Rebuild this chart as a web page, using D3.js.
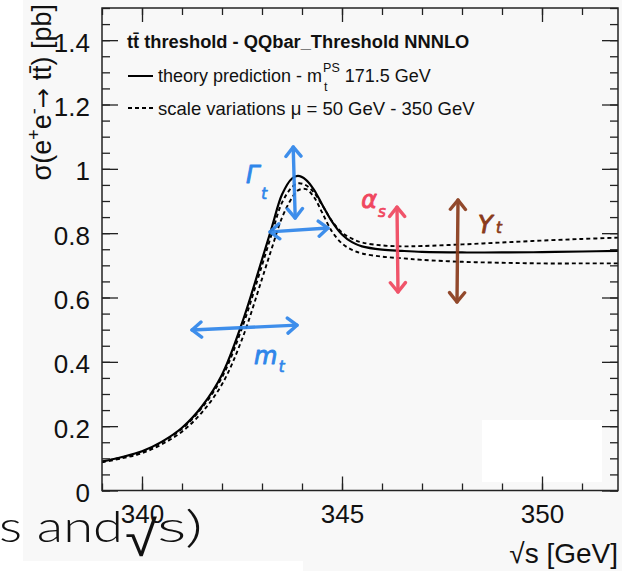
<!DOCTYPE html>
<html>
<head>
<meta charset="utf-8">
<script src="https://cdn.jsdelivr.net/npm/d3@7"></script>
<style>
body{margin:0;background:#fff;}
svg{display:block;}
</style>
</head>
<body>
<div id="chart"></div>
<script>
// cross section (pb) vs sqrt(s) (GeV)
const sqrtS = [339, 339.5, 340, 340.5, 341, 341.5, 342, 342.5, 343, 343.25, 343.5, 343.75, 343.9, 344.1,
  344.3, 344.5, 344.75, 345, 345.25, 345.5, 346, 346.5, 347, 348, 349, 350, 351, 351.9];
const sigmaTheory = [0.090, 0.104, 0.122, 0.152, 0.195, 0.262, 0.360, 0.520, 0.718, 0.820, 0.920, 0.970, 0.978, 0.966,
  0.935, 0.890, 0.836, 0.796, 0.772, 0.759, 0.749, 0.745, 0.742, 0.740, 0.740, 0.741, 0.743, 0.745];
const sigmaScaleUp = [0.090, 0.103, 0.120, 0.150, 0.192, 0.257, 0.352, 0.505, 0.700, 0.800, 0.895, 0.943, 0.955, 0.949,
  0.926, 0.888, 0.838, 0.802, 0.783, 0.771, 0.762, 0.759, 0.760, 0.765, 0.771, 0.777, 0.782, 0.786];
const sigmaScaleDown = [0.088, 0.100, 0.116, 0.144, 0.183, 0.243, 0.330, 0.470, 0.658, 0.755, 0.848, 0.910, 0.933, 0.937,
  0.912, 0.865, 0.805, 0.768, 0.748, 0.737, 0.727, 0.722, 0.717, 0.711, 0.708, 0.706, 0.706, 0.706];

const xMajorTicks = [340, 345, 350];
const xMinorTicks = d3.range(339, 352, 1);
const yMajorTicks = [0, 0.2, 0.4, 0.6, 0.8, 1, 1.2, 1.4];
const yMinorTicks = d3.range(0, 1.5001, 0.05);

const legendTitle = "tt\u0304 threshold - QQbar_Threshold NNNLO";
const legendTheory = "theory prediction - m";
const legendMass = "171.5 GeV";
const legendScale = "scale variations \u03bc = 50 GeV - 350 GeV";

// hand drawn arrows (data units): which parameter moves the curve where
const arrows = [
  {name:"width",  color:"#2f86ea", from:[343.78, 1.068], to:[343.83, 0.847]},
  {name:"peak",   color:"#2f86ea", from:[343.2, 0.804],  to:[344.65, 0.816]},
  {name:"mass",   color:"#2f86ea", from:[341.25, 0.499], to:[343.875, 0.514]},
  {name:"alphas", color:"#f0475f", from:[346.375, 0.881], to:[346.4, 0.617]},
  {name:"yukawa", color:"#8a3b1b", from:[347.9, 0.903],  to:[347.875, 0.586]}
];
const notes = [
  {main:"\u0393", sub:"t", color:"#2f86ea", at:[342.6, 0.956], subAt:[342.98, 0.905]},
  {main:"m", sub:"t", color:"#2f86ea", at:[342.8, 0.393], subAt:[343.42, 0.368]},
  {main:"\u03b1", sub:"s", color:"#f0475f", at:[345.48, 0.878], subAt:[345.9, 0.85]},
  {main:"Y", sub:"t", color:"#8a3b1b", at:[348.4, 0.80], subAt:[348.85, 0.80]}
];

const W = 622, H = 571;
const plot = {left:102, right:618, top:8, bottom:490.5};
const font = "'Liberation Sans', Arial, Helvetica, sans-serif";

const svg = d3.select("#chart").append("svg").attr("width", W).attr("height", H);

// slide background
svg.append("rect").attr("x", 23).attr("y", 0).attr("width", W - 23).attr("height", H).attr("fill", "#f8f8f8");
svg.append("rect").attr("x", 23).attr("y", 561).attr("width", 280).attr("height", 10).attr("fill", "#fff");

// leftover slide title at the bottom
let slide = svg.append("g").attr("fill", "#111").attr("font-family", "Lato, 'Open Sans', sans-serif").attr("font-weight", 300);
slide.append("text").attr("x", -1).attr("y", 542).attr("font-size", 43)
  .attr("textLength", 124).attr("lengthAdjust", "spacingAndGlyphs").text("s and");
slide.append("text").attr("x", 125).attr("y", 556).attr("font-size", 50)
  .attr("font-family", "'DejaVu Sans ExtraLight', 'DejaVu Sans', sans-serif")
  .attr("font-weight", 200).attr("textLength", 32).attr("lengthAdjust", "spacingAndGlyphs").text("\u221a");
slide.append("text").attr("x", 157).attr("y", 542).attr("font-size", 43)
  .attr("textLength", 46).attr("lengthAdjust", "spacingAndGlyphs").text("s)");

const x = d3.scaleLinear().domain([339, 351.9]).range([plot.left, plot.right]);
const y = d3.scaleLinear().domain([0, 1.5]).range([plot.bottom, plot.top]);

svg.append("clipPath").attr("id", "clip").append("rect")
  .attr("x", plot.left).attr("y", plot.top)
  .attr("width", plot.right - plot.left).attr("height", plot.bottom - plot.top);

let line = d3.line().x(d => x(d[0])).y(d => y(d[1])).curve(d3.curveCatmullRom.alpha(0.5));
let curves = svg.append("g").attr("clip-path", "url(#clip)").attr("fill", "none").attr("stroke", "#000");
curves.append("path").datum(d3.zip(sqrtS, sigmaScaleUp)).attr("d", line)
  .attr("stroke-width", 1.9).attr("stroke-dasharray", "4,3");
curves.append("path").datum(d3.zip(sqrtS, sigmaScaleDown)).attr("d", line)
  .attr("stroke-width", 1.9).attr("stroke-dasharray", "4,3");
curves.append("path").datum(d3.zip(sqrtS, sigmaTheory)).attr("d", line)
  .attr("stroke-width", 2.2);

// white patch covering the bottom right of the frame
svg.append("rect").attr("x", 482).attr("y", 420).attr("width", 120).attr("height", 62).attr("fill", "#fff");

// axes: ticks point inwards on all four sides
function drawAxis(axis, transform, keepLabels){
  let g = svg.append("g").attr("transform", transform).call(axis)
    .attr("font-family", font).attr("font-size", 26);
  g.select(".domain").remove();
  g.selectAll("line").attr("stroke", "#222").attr("stroke-width", 1.3);
  if(!keepLabels) g.selectAll("text").remove();
  else g.selectAll("text").attr("fill", "#111");
  return g;
}
drawAxis(d3.axisBottom(x).tickValues(xMinorTicks).tickSizeInner(-7).tickSizeOuter(0), `translate(0,${plot.bottom})`, false);
drawAxis(d3.axisBottom(x).tickValues(xMajorTicks).tickSizeInner(-14).tickSizeOuter(0).tickPadding(14).tickFormat(d3.format("d")),
  `translate(0,${plot.bottom})`, true);
drawAxis(d3.axisTop(x).tickValues(xMinorTicks).tickSizeInner(-7).tickSizeOuter(0), `translate(0,${plot.top})`, false);
drawAxis(d3.axisTop(x).tickValues(xMajorTicks).tickSizeInner(-14).tickSizeOuter(0), `translate(0,${plot.top})`, false);
drawAxis(d3.axisLeft(y).tickValues(yMinorTicks).tickSizeInner(-8).tickSizeOuter(0), `translate(${plot.left},0)`, false);
drawAxis(d3.axisLeft(y).tickValues(yMajorTicks).tickSizeInner(-16).tickSizeOuter(0).tickPadding(12).tickFormat(d3.format("~g")),
  `translate(${plot.left},0)`, true).selectAll("text").attr("dy", "0.42em");
drawAxis(d3.axisRight(y).tickValues(yMinorTicks).tickSizeInner(-8).tickSizeOuter(0), `translate(${plot.right},0)`, false);
drawAxis(d3.axisRight(y).tickValues(yMajorTicks).tickSizeInner(-16).tickSizeOuter(0), `translate(${plot.right},0)`, false);

svg.append("rect").attr("x", plot.left).attr("y", plot.top)
  .attr("width", plot.right - plot.left).attr("height", plot.bottom - plot.top)
  .attr("fill", "none").attr("stroke", "#222").attr("stroke-width", 1.5);

// axis titles
svg.append("text").attr("x", plot.right).attr("y", 563).attr("text-anchor", "end")
  .attr("font-family", font).attr("font-size", 28).attr("fill", "#111").text("\u221as [GeV]");

let ytitle = svg.append("text").attr("transform", "translate(51,4) rotate(-90)").attr("text-anchor", "end")
  .attr("font-family", font).attr("font-size", 27).attr("fill", "#111");
ytitle.append("tspan").text("\u03c3(e");
ytitle.append("tspan").attr("dy", -11).attr("font-size", 18).text("+");
ytitle.append("tspan").attr("dy", 11).text("e");
ytitle.append("tspan").attr("dy", -11).attr("font-size", 18).text("-");
ytitle.append("tspan").attr("dy", 11).attr("font-family", "'DejaVu Sans', sans-serif").attr("font-size", 24).text("\u2192");
ytitle.append("tspan").text(" tt\u0304) [pb]");

// legend
let legend = svg.append("g").attr("font-family", font).attr("fill", "#111");
legend.append("text").attr("x", 127).attr("y", 48).attr("font-size", 18.3).attr("font-weight", "bold").text(legendTitle);
legend.append("line").attr("x1", 128).attr("x2", 153).attr("y1", 76).attr("y2", 76)
  .attr("stroke", "#000").attr("stroke-width", 2);
legend.append("line").attr("x1", 128).attr("x2", 153).attr("y1", 108).attr("y2", 108)
  .attr("stroke", "#000").attr("stroke-width", 1.8).attr("stroke-dasharray", "4,3");
let t1 = legend.append("text").attr("x", 158).attr("y", 82).attr("font-size", 18).text(legendTheory);
let w1 = t1.node().getComputedTextLength();
let ps = legend.append("text").attr("x", 158 + w1 + 1).attr("y", 72).attr("font-size", 12.5).text("PS");
legend.append("text").attr("x", 158 + w1 + 2).attr("y", 91).attr("font-size", 12.5).text("t");
legend.append("text").attr("x", 158 + w1 + 6 + ps.node().getComputedTextLength()).attr("y", 82)
  .attr("font-size", 18).text(legendMass);
legend.append("text").attr("x", 158).attr("y", 115).attr("font-size", 18.5).text(legendScale);

// hand drawn annotations
let ann = svg.append("g").attr("fill", "none").attr("stroke-linecap", "round").attr("stroke-linejoin", "round");
arrows.forEach(a => {
  let p0 = [x(a.from[0]), y(a.from[1])], p1 = [x(a.to[0]), y(a.to[1])];
  let g = ann.append("g").attr("stroke", a.color).attr("stroke-width", 3.4).attr("opacity", 0.92);
  g.append("path").attr("d", d3.line()([p0, p1]));
  [[p0, p1], [p1, p0]].forEach(([tip, tail]) => {
    let ang = Math.atan2(tail[1] - tip[1], tail[0] - tip[0]);
    let len = 12, spread = 0.68;
    let h1 = [tip[0] + len * Math.cos(ang + spread), tip[1] + len * Math.sin(ang + spread)];
    let h2 = [tip[0] + len * Math.cos(ang - spread), tip[1] + len * Math.sin(ang - spread)];
    g.append("path").attr("d", d3.line()([h1, tip, h2]));
  });
});
let noteG = svg.append("g").attr("font-family", "'DejaVu Sans', sans-serif").attr("font-style", "italic")
  .attr("stroke-linejoin", "round");
notes.forEach(n => {
  noteG.append("text").attr("x", x(n.at[0])).attr("y", y(n.at[1])).attr("font-size", 24)
    .attr("fill", n.color).attr("stroke", n.color).attr("stroke-width", 0.9).text(n.main);
  noteG.append("text").attr("x", x(n.subAt[0])).attr("y", y(n.subAt[1])).attr("font-size", 15)
    .attr("fill", n.color).attr("stroke", n.color).attr("stroke-width", 0.7).text(n.sub);
});
</script>
</body>
</html>
